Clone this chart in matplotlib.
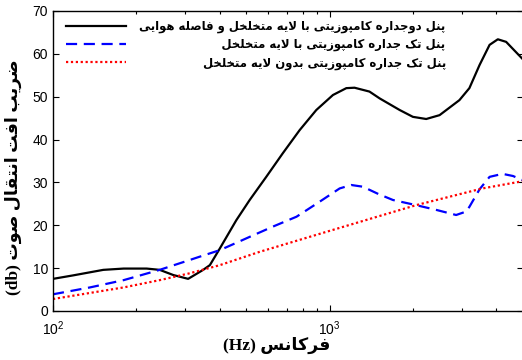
import matplotlib
matplotlib.use('Agg')
import matplotlib.pyplot as plt
from matplotlib.ticker import LogLocator, FixedLocator

# ---------------- data ----------------
freq_double = [100, 118, 152, 180, 218, 243, 272, 308, 349, 369, 401, 460, 514, 590, 677,
               779, 895, 1028, 1149, 1230, 1393, 1517, 1791, 2000, 2234, 2497, 2945, 3200,
               3483, 3786, 4055, 4345, 5000]
tl_double = [7.5, 8.3, 9.6, 9.9, 9.9, 9.6, 8.4, 7.5, 9.6, 10.7, 14.6, 21.2, 25.9, 31.3, 36.8,
             42.2, 46.9, 50.4, 52.0, 52.1, 51.2, 49.6, 46.9, 45.3, 44.8, 45.7, 49.2, 52.0,
             57.4, 62.1, 63.4, 62.8, 58.7]

freq_single_porous = [100, 136, 180, 243, 312, 340, 401, 514, 624, 759, 920, 1087, 1197, 1319,
                      1500, 1694, 2054, 2426, 2866, 3113, 3200, 3483, 3786, 4217, 4600, 5000]
tl_single_porous = [3.9, 5.5, 7.2, 9.6, 11.9, 12.7, 14.2, 17.3, 19.7, 22.0, 25.5, 28.6, 29.4, 29.0,
                    27.3, 25.9, 24.7, 23.6, 22.4, 23.2, 24.3, 28.4, 31.3, 32.0, 31.5, 30.5]

freq_single = [100, 180, 243, 312, 401, 558, 1000, 2054, 3567, 5000]
tl_single = [2.8, 5.5, 7.2, 8.8, 10.7, 13.8, 18.7, 24.7, 28.6, 30.3]

series_labels = [
    'پنل دوجداره کامپوزیتی با لایه متخلخل و فاصله هوایی',
    'پنل تک جداره کامپوزیتی با لایه متخلخل',
    'پنل تک جداره کامپوزیتی بدون لایه متخلخل',
]
ylabel_fa = 'ضریب افت انتقال صوت'
ylabel_unit = '(db)'
xlabel_fa = 'فرکانس'
xlabel_unit = '(Hz)'
y_ticks = [0, 10, 20, 30, 40, 50, 60, 70]

# ---------------- minimal Persian shaping ----------------
FORMS = {  # isolated, final, initial, medial
    'ا': ('\uFE8D', '\uFE8E', None, None),
    'ب': ('\uFE8F', '\uFE90', '\uFE91', '\uFE92'),
    'پ': ('\uFB56', '\uFB57', '\uFB58', '\uFB59'),
    'ت': ('\uFE95', '\uFE96', '\uFE97', '\uFE98'),
    'ج': ('\uFE9D', '\uFE9E', '\uFE9F', '\uFEA0'),
    'چ': ('\uFB7A', '\uFB7B', '\uFB7C', '\uFB7D'),
    'خ': ('\uFEA5', '\uFEA6', '\uFEA7', '\uFEA8'),
    'د': ('\uFEA9', '\uFEAA', None, None),
    'ر': ('\uFEAD', '\uFEAE', None, None),
    'ز': ('\uFEAF', '\uFEB0', None, None),
    'ژ': ('\uFB8A', '\uFB8B', None, None),
    'س': ('\uFEB1', '\uFEB2', '\uFEB3', '\uFEB4'),
    'ص': ('\uFEB9', '\uFEBA', '\uFEBB', '\uFEBC'),
    'ض': ('\uFEBD', '\uFEBE', '\uFEBF', '\uFEC0'),
    'ف': ('\uFED1', '\uFED2', '\uFED3', '\uFED4'),
    'ق': ('\uFED5', '\uFED6', '\uFED7', '\uFED8'),
    'ک': ('\uFB8E', '\uFB8F', '\uFB90', '\uFB91'),
    'ل': ('\uFEDD', '\uFEDE', '\uFEDF', '\uFEE0'),
    'م': ('\uFEE1', '\uFEE2', '\uFEE3', '\uFEE4'),
    'ن': ('\uFEE5', '\uFEE6', '\uFEE7', '\uFEE8'),
    'ه': ('\uFEE9', '\uFEEA', '\uFEEB', '\uFEEC'),
    'و': ('\uFEED', '\uFEEE', None, None),
    'ی': ('\uFBFC', '\uFBFD', '\uFBFE', '\uFBFF'),
}


def dual(c):
    return c in FORMS and FORMS[c][2] is not None


def shape_rtl(text):
    out = []
    chars = list(text)
    i = 0
    n = len(chars)
    while i < n:
        c = chars[i]
        if c not in FORMS:
            out.append(c)
            i += 1
            continue
        prev = chars[i - 1] if i > 0 else ''
        join_prev = dual(prev)
        if c == 'ل' and i + 1 < n and chars[i + 1] == 'ا':
            out.append('\uFEFC' if join_prev else '\uFEFB')
            i += 2
            continue
        nxt = chars[i + 1] if i + 1 < n else ''
        join_next = dual(c) and nxt in FORMS
        iso, fin, ini, med = FORMS[c]
        if join_prev and join_next:
            g = med
        elif join_prev:
            g = fin
        elif join_next:
            g = ini
        else:
            g = iso
        out.append(g)
        i += 1
    return ''.join(reversed(out))


# ---------------- figure ----------------
plt.rcParams['font.family'] = ['Liberation Sans', 'DejaVu Sans']
plt.rcParams['mathtext.default'] = 'regular'

fig = plt.figure(figsize=(5.22, 3.6), dpi=100)
ax = fig.add_axes([53 / 522, 1 - 311 / 360, 470 / 522, 300 / 360])

ax.plot(freq_double, tl_double, color='black', lw=1.6, linestyle='-')
ax.plot(freq_single_porous, tl_single_porous, color='#0000ff', lw=1.6,
        linestyle=(0, (5, 3)))
ax.plot(freq_single, tl_single, color='#ff0000', lw=1.6, linestyle=(0, (1, 1.2)))

ax.set_xscale('log')
ax.set_xlim(100, 5000)
ax.set_ylim(0, 70)
ax.yaxis.set_major_locator(FixedLocator(y_ticks))
ax.xaxis.set_major_locator(LogLocator(base=10))
ax.xaxis.set_minor_locator(LogLocator(base=10, subs=range(2, 10)))
ax.tick_params(which='both', direction='in', top=True, right=True, labelsize=10,
               colors='black')
ax.tick_params(which='major', length=4, width=0.8)
ax.tick_params(which='minor', length=2.5, width=0.8)
ax.tick_params(axis='x', pad=6)
for s in ax.spines.values():
    s.set_linewidth(1.0)

lab_fam = ['Liberation Serif', 'DejaVu Sans']
ax.set_xlabel(xlabel_unit + ' ' + shape_rtl(xlabel_fa), fontsize=12.5,
              fontweight='bold', family=lab_fam)
ax.xaxis.set_label_coords((277 - 53) / 470, -(345 - 311) / 300, transform=ax.transAxes)
ax.xaxis.label.set_va('center')
ax.set_ylabel(ylabel_unit + ' ' + shape_rtl(ylabel_fa), fontsize=12.5,
              fontweight='bold', family=lab_fam)
ax.yaxis.set_label_coords(-(53 - 13) / 470, (311 - 177) / 300, transform=ax.transAxes)
ax.yaxis.label.set_va('center')

# legend with right-aligned RTL labels
leg_fs = 8.4
shaped = [shape_rtl(s) for s in series_labels]
fig.canvas.draw()
renderer = fig.canvas.get_renderer()


def text_w(s):
    t = fig.text(0, 0, s, fontsize=leg_fs, fontweight='bold', family=['DejaVu Sans'])
    w = t.get_window_extent(renderer).width
    t.remove()
    return w


target = max(text_w(s) for s in shaped)
padded = []
for s in shaped:
    pad = ''
    while text_w(pad + ' ' + s) <= target + 1:
        pad += ' '
    while text_w(pad + '\u2009' + s) <= target + 1:
        pad += '\u2009'
    padded.append(pad + s)

handles = [ax.lines[0], ax.lines[1], ax.lines[2]]
leg = ax.legend(handles, padded, loc='upper left', bbox_to_anchor=(8 / 470, 1 - 4 / 300),
                frameon=False, handlelength=5.2, handletextpad=1.05, labelspacing=0.43,
                borderaxespad=0, prop={'size': leg_fs, 'weight': 'bold',
                                       'family': ['DejaVu Sans']})

fig.savefig('out.png', dpi=100)
